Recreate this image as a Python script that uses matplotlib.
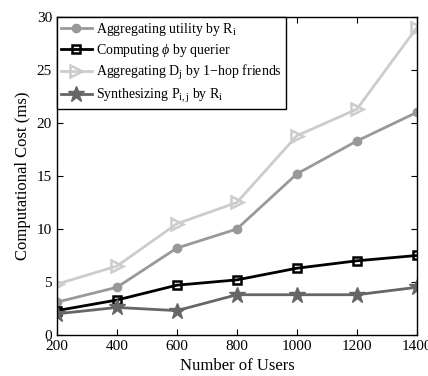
import matplotlib
matplotlib.use("Agg")
import matplotlib.pyplot as plt

# ── data ──────────────────────────────────────────────────────────────────────
users = [200, 400, 600, 800, 1000, 1200, 1400]
agg_utility = [3.1, 4.5, 8.2, 10.0, 15.2, 18.3, 21.0]
computing_phi = [2.3, 3.3, 4.7, 5.2, 6.3, 7.0, 7.5]
agg_dj = [4.8, 6.5, 10.5, 12.5, 18.8, 21.3, 29.0]
synth_pij = [2.0, 2.6, 2.3, 3.8, 3.8, 3.8, 4.5]

labels = [
    r"Aggregating utility by R$_\mathregular{i}$",
    r"Computing $\phi$ by querier",
    r"Aggregating D$_\mathregular{j}$ by 1$-$hop friends",
    r"Synthesizing P$_\mathregular{i,j}$ by R$_\mathregular{i}$",
]

plt.rcParams["font.family"] = "Liberation Serif"
plt.rcParams["mathtext.fontset"] = "custom"
plt.rcParams["mathtext.rm"] = "Liberation Serif"
plt.rcParams["mathtext.it"] = "Liberation Serif:italic"

fig = plt.figure(figsize=(4.28, 3.76), dpi=100)
ax = fig.add_axes([0.133, 0.109, 0.841, 0.846])

ax.plot(users, agg_utility, color="#999999", lw=2.0, marker="o", ms=6,
        label=labels[0])
ax.plot(users, computing_phi, color="black", lw=2.0, marker="s", ms=6,
        mfc="none", mew=1.8, label=labels[1])
ax.plot(users, agg_dj, color="#cccccc", lw=2.0, marker=">", ms=8,
        mfc="none", mew=1.8, label=labels[2])
ax.plot(users, synth_pij, color="#666666", lw=2.0, marker="*", ms=12,
        label=labels[3])

ax.set_xlim(200, 1400)
ax.set_ylim(0, 30)
ax.set_xticks(users)
ax.set_yticks(range(0, 31, 5))
ax.tick_params(direction="in", top=True, right=True, labelsize=11, length=4)
for s in ax.spines.values():
    s.set_linewidth(1.0)

ax.set_xlabel("Number of Users", fontsize=12)
ax.set_ylabel("Computational Cost (ms)", fontsize=12)

leg = ax.legend(loc="upper left", fontsize=10, fancybox=False,
                edgecolor="black", framealpha=1, borderaxespad=0,
                handlelength=2.2, labelspacing=0.3, borderpad=0.3,
                handletextpad=0.3)
leg.get_frame().set_linewidth(1.0)

fig.savefig("out.png", dpi=100)
